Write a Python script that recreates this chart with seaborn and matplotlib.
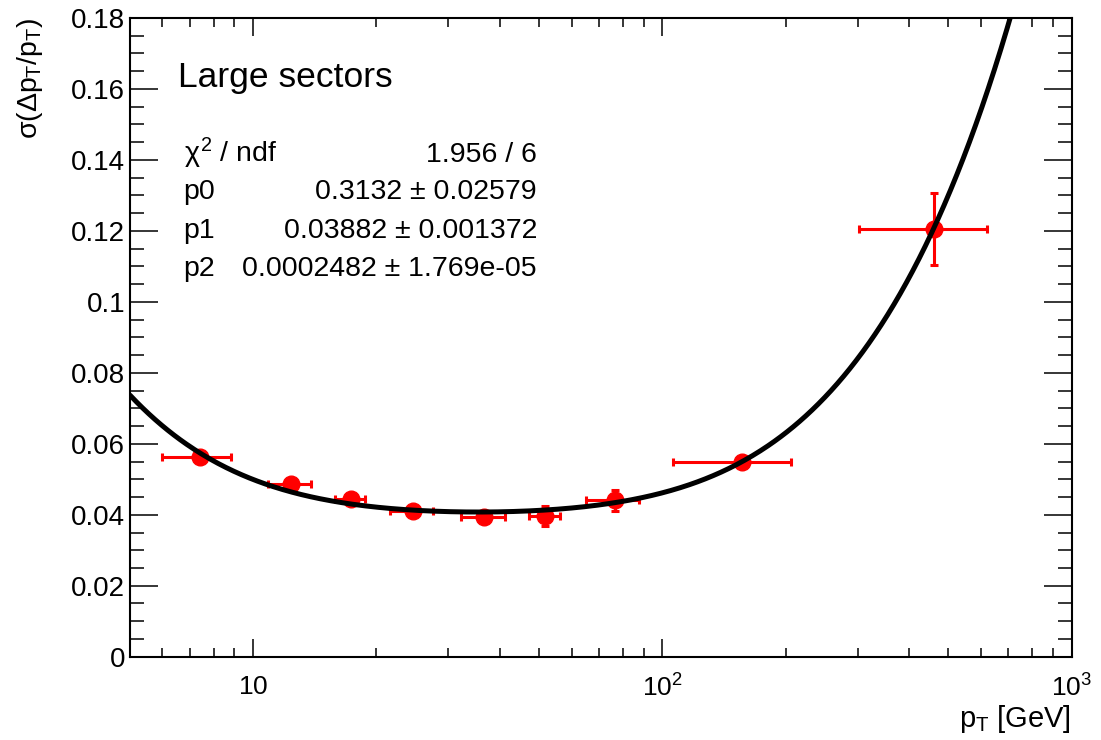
import numpy as np
import pandas as pd
import seaborn as sns
import matplotlib
matplotlib.use('Agg')
import matplotlib.pyplot as plt
from matplotlib.ticker import LogLocator, FixedLocator, FixedFormatter, MultipleLocator, FuncFormatter, NullFormatter


#%% Data

pt = [7.41, 12.35, 17.31, 24.55, 36.7, 51.8, 76.4, 156.3, 461.7]
pt_err = [1.41, 1.47, 1.5, 3.0, 4.5, 4.5, 11.4, 50.0, 159.0]
sigma = [0.0562, 0.0487, 0.0444, 0.0411, 0.0393, 0.0397, 0.0441, 0.0549, 0.1205]
sigma_err = [0.0015, 0.0012, 0.0012, 0.0012, 0.0013, 0.0028, 0.0029, 0.0015, 0.0101]

# fit results printed in the stats box
p0, p1, p2 = 0.3132, 0.03882, 0.0002482
stat_names = [r'$\chi^{2}$ / ndf', 'p0', 'p1', 'p2']
stat_values = ['1.956 / 6', '0.3132 \u00b1 0.02579', '0.03882 \u00b1 0.001372', '0.0002482 \u00b1 1.769e-05']
x_major = [10, 100, 1000]
x_major_labels = [r'$10$', r'$10^{2}$', r'$10^{3}$']


#%% Style

sns.set_style('ticks')
plt.rcParams['font.family'] = ['Liberation Sans', 'DejaVu Sans']
plt.rcParams['mathtext.fontset'] = 'custom'
plt.rcParams['mathtext.rm'] = 'Liberation Sans'
plt.rcParams['mathtext.it'] = 'Liberation Sans'
plt.rcParams['mathtext.bf'] = 'Liberation Sans:bold'
plt.rcParams['text.color'] = 'black'
plt.rcParams['axes.labelcolor'] = 'black'

W, H = 1101, 740
fig = plt.figure(figsize=(W / 100, H / 100), dpi=100)
ax = fig.add_axes([130 / W, (H - 656.7) / H, 941.5 / W, 638.7 / H])

def fx(px):
    return px / W

def fy(py):
    return 1 - py / H


#%% Points and fit

ax.errorbar(pt, sigma, xerr=pt_err, yerr=sigma_err, fmt='o', color='red', ms=12,
            elinewidth=2.2, capsize=2.6, capthick=2.2, zorder=2)

fit_df = pd.DataFrame({'pt': np.geomspace(5, 1000, 600)})
fit_df['sigma'] = np.sqrt((p0 / fit_df['pt']) ** 2 + p1 ** 2 + (p2 * fit_df['pt']) ** 2)
sns.lineplot(data=fit_df, x='pt', y='sigma', color='black', linewidth=3.6, estimator=None, ax=ax, zorder=3)

ax.set_xscale('log')
ax.set_xlim(5, 1000)
ax.set_ylim(0, 0.18)
ax.set_xlabel('')
ax.set_ylabel('')

ax.xaxis.set_major_locator(FixedLocator(x_major))
ax.xaxis.set_major_formatter(FixedFormatter(x_major_labels))
ax.xaxis.set_minor_locator(LogLocator(base=10, subs=np.arange(2, 10)))
ax.xaxis.set_minor_formatter(NullFormatter())
ax.yaxis.set_major_locator(MultipleLocator(0.02))
ax.yaxis.set_minor_locator(MultipleLocator(0.005))
ax.yaxis.set_major_formatter(FuncFormatter(lambda v, pos: f'{v:g}'))

for side in ax.spines.values():
    side.set_linewidth(1.5)
    side.set_color('black')
    side.set_visible(True)
ax.tick_params(axis='both', which='both', direction='in', width=1.1, colors='black',
               top=True, right=True, labelsize=20)
ax.tick_params(axis='x', which='major', length=13, pad=13, labelsize=19)
ax.tick_params(axis='x', which='minor', length=6.5)
ax.tick_params(axis='y', which='major', length=20, pad=3.6)
ax.tick_params(axis='y', which='minor', length=10)


#%% Texts

fig.text(fx(30), fy(18), r'$\sigma(\Delta p_{T}/p_{T})$', rotation=90, ha='center', va='top', fontsize=20.5)
fig.text(fx(1071), fy(727), r'$p_{T}$ [GeV]', ha='right', va='baseline', fontsize=21)
fig.text(fx(178), fy(87.3), 'Large sectors', ha='left', va='baseline', fontsize=25.5)

baselines = [162, 199, 238, 276]
for name, value, base in zip(stat_names, stat_values, baselines):
    fig.text(fx(183.5), fy(base), name, ha='left', va='baseline', fontsize=20.5)
    fig.text(fx(537), fy(base), value, ha='right', va='baseline', fontsize=20.5)

fig.savefig('out.png', dpi=100)
